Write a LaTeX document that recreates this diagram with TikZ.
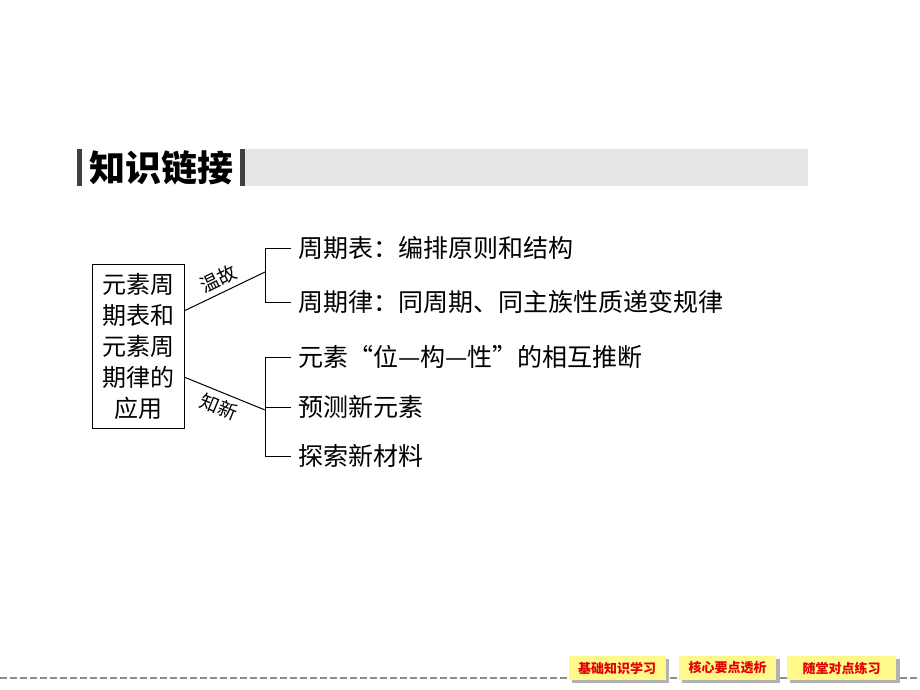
\documentclass[tikz,border=0pt]{standalone}
\usepackage{fontspec}
\newfontfamily\cjk{Noto Sans CJK SC}
\begin{document}
\begin{tikzpicture}[x=1pt,y=-1pt,
  txt/.style={font=\cjk\fontsize{25}{27}\selectfont, anchor=west, inner sep=0pt},
  conn/.style={line width=1pt, black},
  lbl/.style={font=\cjk\fontsize{19}{21}\selectfont, inner sep=0pt},
  btn/.style={fill=yellow!45, draw=none, minimum height=24pt, inner sep=0pt, font=\cjk\bfseries\fontsize{13}{14}\selectfont, text=red!90!black},
  btnshadow/.style={fill=black!30, draw=none}
]
\useasboundingbox (0,0) rectangle (920,690);
% title bar
\fill[black!10] (245,149) rectangle (808,186);
\fill[black!75] (77,149) rectangle (82,186);
\fill[black!75] (240,149) rectangle (245,186);
\node[font=\cjk\bfseries\fontsize{36}{38}\selectfont, inner sep=0pt] (title) at (161,168) {知识链接};
% main box
\node[draw, line width=1pt, minimum width=92pt, minimum height=164pt, inner sep=0pt, align=center,
  font=\cjk\fontsize{24}{31}\selectfont] (box) at (138,346) {元素周\\期表和\\元素周\\期律的\\应用};
\coordinate (b1) at (184,311);
\coordinate (b2) at (184,377);
\coordinate (j1) at (265,272);
\coordinate (j2) at (265,410);
\draw[conn] (b1) -- (j1) node[midway, sloped, above=5pt, lbl] (wg) {温故};
\draw[conn] (b2) -- (j2) node[midway, sloped, below=5pt, lbl] (zx) {知新};
% right texts
\node[txt] (t1) at (298,248) {周期表：编排原则和结构};
\node[txt] (t2) at (298,302) {周期律：同周期、同主族性质递变规律};
\node[txt] (t3) at (298,357) {元素“位—构—性”的相互推断};
\node[txt] (t4) at (298,407) {预测新元素};
\node[txt] (t5) at (298,456) {探索新材料};
% brackets
\draw[conn] ([xshift=-7pt]t1.west) -- (265,248) -- (265,302) -- ([xshift=-7pt]t2.west);
\draw[conn] ([xshift=-7pt]t3.west) -- (265,357) -- (265,456) -- ([xshift=-7pt]t5.west);
\draw[conn] (265,407) -- ([xshift=-7pt]t4.west);
% bottom dashed line
\draw[black!45, line width=1.2pt, dash pattern=on 7pt off 3pt] (0,678) -- (920,678);
% buttons
\fill[btnshadow] (572,659) rectangle (669,683);
\fill[btnshadow] (682,659) rectangle (780,683);
\fill[btnshadow] (790,659) rectangle (900,683);
\node[btn, minimum width=97pt] (n1) at (617,668) {基础知识学习};
\node[btn, minimum width=97pt] (n2) at (727.5,668) {核心要点透析};
\node[btn, minimum width=109pt] (n3) at (841.5,668) {随堂对点练习};
\end{tikzpicture}
\end{document}
